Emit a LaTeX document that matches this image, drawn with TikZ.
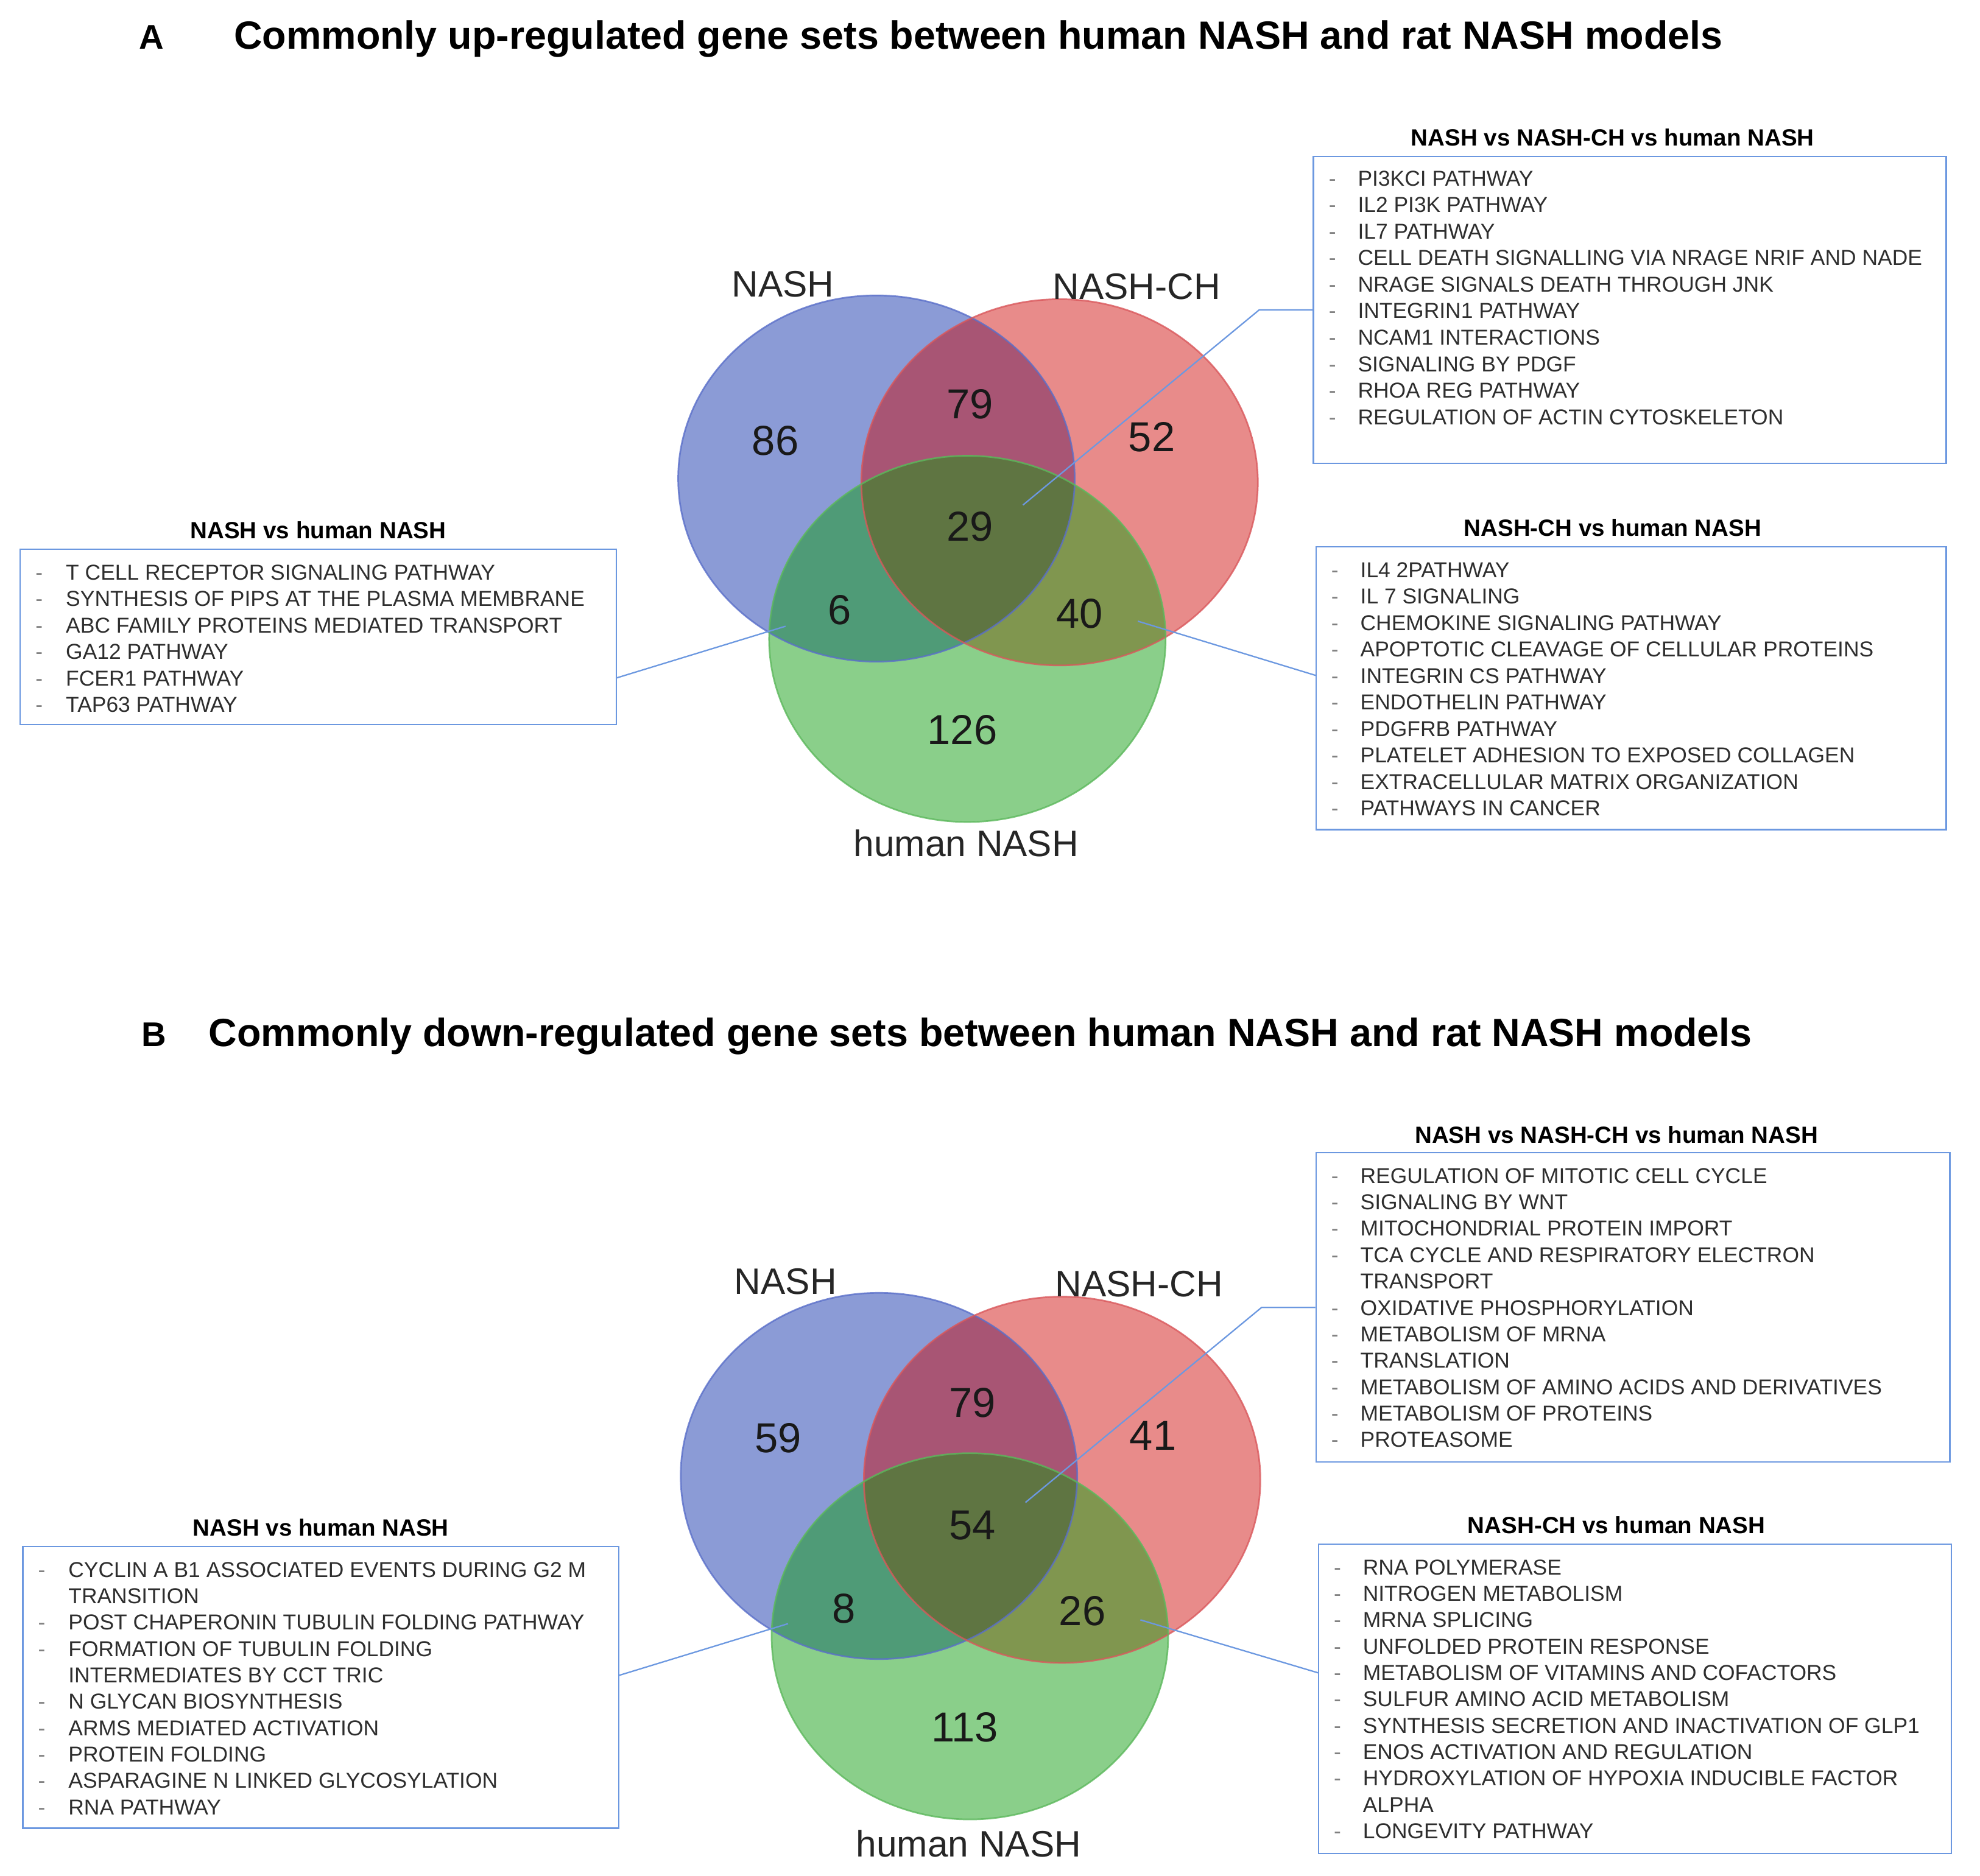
\documentclass[tikz,border=0pt]{standalone}
\usepackage{fontspec}
\setmainfont{Liberation Sans}
\definecolor{cB}{RGB}{139,155,214}
\definecolor{cR}{RGB}{232,139,138}
\definecolor{cG}{RGB}{138,207,138}
\definecolor{cBR}{RGB}{168,85,116}
\definecolor{cBG}{RGB}{79,155,119}
\definecolor{cRG}{RGB}{128,150,79}
\definecolor{cBRG}{RGB}{95,117,66}
\definecolor{sB}{RGB}{90,111,201}
\definecolor{sR}{RGB}{217,88,92}
\definecolor{sG}{RGB}{92,184,92}
\definecolor{boxblue}{RGB}{108,152,224}
\tikzset{
  lbox/.style={draw=boxblue, line width=1.1pt, inner sep=0pt},
  lead/.style={draw=boxblue, line width=1.1pt},
  itemtxt/.style={anchor=west, inner sep=0pt, text=black!82, text height=12.3pt, text depth=0pt, font=\fontsize{17}{20}\selectfont},
  dashmk/.style={itemtxt, text=black!50},
  btitle/.style={inner sep=0pt, font=\bfseries\fontsize{18.5}{22}\selectfont},
  mtitle/.style={anchor=base west, inner sep=0pt, font=\bfseries\fontsize{31}{36}\selectfont},
  plabel/.style={anchor=base west, inner sep=0pt, font=\bfseries\fontsize{27}{32}\selectfont},
  vlabel/.style={inner sep=0pt, text=black!85, font=\fontsize{29}{34}\selectfont},
  vnum/.style={inner sep=0pt, text=black!90, font=\fontsize{33}{38}\selectfont},
  ell/.style={x radius=156.2pt, y radius=144.3pt},
}
\newcommand{\vennshapes}{%
  \fill[cB] (694,379) ellipse [ell];
  \fill[cR] (839,382) ellipse [ell];
  \begin{scope}
    \clip (694,379) ellipse [ell];
    \fill[cBR] (839,382) ellipse [ell];
  \end{scope}
  \fill[cG] (766,506) ellipse [ell];
  \begin{scope}
    \clip (766,506) ellipse [ell];
    \fill[cBG] (694,379) ellipse [ell];
    \fill[cRG] (839,382) ellipse [ell];
    \clip (694,379) ellipse [ell];
    \fill[cBRG] (839,382) ellipse [ell];
  \end{scope}
  \draw[sB, line width=1.3pt, draw opacity=0.8] (694,379) ellipse [ell];
  \draw[sR, line width=1.3pt, draw opacity=0.8] (839,382) ellipse [ell];
  \draw[sG, line width=1.3pt, draw opacity=0.8] (766,506) ellipse [ell];
}
\begin{document}
\begin{tikzpicture}[x=0.995pt, y=-0.995pt]
\useasboundingbox (0pt,0pt) rectangle (1560pt,-1478pt);

% ---------------- Panel A ----------------
\node[plabel] (tA) at (110,39) {A};
\node[mtitle] (titleA) at (185,39) {Commonly up-regulated gene sets between human NASH and rat NASH models};

\vennshapes
\node[vlabel] (lA1) at (620,225) {NASH};
\node[vlabel] (lA2) at (900,227) {NASH-CH};
\node[vlabel] (lA3) at (765,668) {human NASH};
\node[vnum] (nA1) at (614,349) {86};
\node[vnum] (nA2) at (768,320) {79};
\node[vnum] (nA3) at (912,346) {52};
\node[vnum] (nA4) at (768,417) {29};
\node[vnum] (nA5) at (665,483) {6};
\node[vnum] (nA6) at (855,486) {40};
\node[vnum] (nA7) at (762,578) {126};

% box A1
\node[btitle] (hA1) at (1277,109) {NASH vs NASH-CH vs human NASH};
\node[lbox, minimum width=498.5pt, minimum height=241.8pt] (A1) at (1290.5,245.5) {};
\foreach \t/\d [count=\i] in {PI3KCI PATHWAY/1, IL2 PI3K PATHWAY/1, IL7 PATHWAY/1,
  CELL DEATH SIGNALLING VIA NRAGE NRIF AND NADE/1, NRAGE SIGNALS DEATH THROUGH JNK/1,
  INTEGRIN1 PATHWAY/1, NCAM1 INTERACTIONS/1, SIGNALING BY PDGF/1, RHOA REG PATHWAY/1,
  REGULATION OF ACTIN CYTOSKELETON/1} {
  \node[itemtxt] (iA1-\i) at (1075,{141+(\i-1)*21}) {\t};
  \ifnum\d=1 \node[dashmk] (dA1-\i) at (1052,{141+(\i-1)*21}) {-};\fi
}
% box A2
\node[btitle] (hA2) at (252,420) {NASH vs human NASH};
\node[lbox, minimum width=469.6pt, minimum height=138.3pt] (A2) at (252,504.5) {};
\foreach \t/\d [count=\i] in {T CELL RECEPTOR SIGNALING PATHWAY/1,
  SYNTHESIS OF PIPS AT THE PLASMA MEMBRANE/1, ABC FAMILY PROTEINS MEDIATED TRANSPORT/1,
  GA12 PATHWAY/1, FCER1 PATHWAY/1, TAP63 PATHWAY/1} {
  \node[itemtxt] (iA2-\i) at (52,{453+(\i-1)*21}) {\t};
  \ifnum\d=1 \node[dashmk] (dA2-\i) at (28,{453+(\i-1)*21}) {-};\fi
}
% box A3
\node[btitle] (hA3) at (1277,418) {NASH-CH vs human NASH};
\node[lbox, minimum width=496.5pt, minimum height=222.9pt] (A3) at (1291.5,545) {};
\foreach \t/\d [count=\i] in {IL4 2PATHWAY/1, IL 7 SIGNALING/1, CHEMOKINE SIGNALING PATHWAY/1,
  APOPTOTIC CLEAVAGE OF CELLULAR PROTEINS/1, INTEGRIN CS PATHWAY/1, ENDOTHELIN PATHWAY/1,
  PDGFRB PATHWAY/1, PLATELET ADHESION TO EXPOSED COLLAGEN/1,
  EXTRACELLULAR MATRIX ORGANIZATION/1, PATHWAYS IN CANCER/1} {
  \node[itemtxt] (iA3-\i) at (1077,{451+(\i-1)*21}) {\t};
  \ifnum\d=1 \node[dashmk] (dA3-\i) at (1054,{451+(\i-1)*21}) {-};\fi
}
% leaders A
\coordinate (sA1) at (810,400);
\coordinate (kA1) at (997,245.5);
\draw[lead] (sA1) -- (kA1) -- (A1.west);
\coordinate (sA2) at (622,496);
\coordinate (eA2) at (488,537);
\draw[lead] (sA2) -- (eA2);
\coordinate (sA3) at (901,492);
\coordinate (eA3) at (1042,535);
\draw[lead] (sA3) -- (eA3);

% ---------------- Panel B ----------------
\node[plabel] (tB) at (112,829) {B};
\node[mtitle] (titleB) at (165,829) {Commonly down-regulated gene sets between human NASH and rat NASH models};

\begin{scope}[shift={(2,790)}]
\vennshapes
\end{scope}
\node[vlabel] (lB1) at (622,1015) {NASH};
\node[vlabel] (lB2) at (902,1017) {NASH-CH};
\node[vlabel] (lB3) at (767,1460) {human NASH};
\node[vnum] (nB1) at (616,1139) {59};
\node[vnum] (nB2) at (770,1111) {79};
\node[vnum] (nB3) at (913,1137) {41};
\node[vnum] (nB4) at (770,1208) {54};
\node[vnum] (nB5) at (668,1274) {8};
\node[vnum] (nB6) at (857,1276) {26};
\node[vnum] (nB7) at (764,1368) {113};

% box B1
\node[btitle] (hB1) at (1280,899) {NASH vs NASH-CH vs human NASH};
\node[lbox, minimum width=499.5pt, minimum height=243.8pt] (B1) at (1293,1035.5) {};
\foreach \t/\d [count=\i] in {REGULATION OF MITOTIC CELL CYCLE/1, SIGNALING BY WNT/1,
  MITOCHONDRIAL PROTEIN IMPORT/1, TCA CYCLE AND RESPIRATORY ELECTRON/1, TRANSPORT/0,
  OXIDATIVE PHOSPHORYLATION/1, METABOLISM OF MRNA/1, TRANSLATION/1,
  METABOLISM OF AMINO ACIDS AND DERIVATIVES/1, METABOLISM OF PROTEINS/1, PROTEASOME/1} {
  \node[itemtxt] (iB1-\i) at (1077,{931+(\i-1)*20.9}) {\t};
  \ifnum\d=1 \node[dashmk] (dB1-\i) at (1054,{931+(\i-1)*20.9}) {-};\fi
}
% box B2
\node[btitle] (hB2) at (254,1210) {NASH vs human NASH};
\node[lbox, minimum width=469.6pt, minimum height=221.9pt] (B2) at (254,1336.5) {};
\foreach \t/\d [count=\i] in {CYCLIN A B1 ASSOCIATED EVENTS DURING G2 M/1, TRANSITION/0,
  POST CHAPERONIN TUBULIN FOLDING PATHWAY/1, FORMATION OF TUBULIN FOLDING/1,
  INTERMEDIATES BY CCT TRIC/0, N GLYCAN BIOSYNTHESIS/1, ARMS MEDIATED ACTIVATION/1,
  PROTEIN FOLDING/1, ASPARAGINE N LINKED GLYCOSYLATION/1, RNA PATHWAY/1} {
  \node[itemtxt] (iB2-\i) at (54,{1243+(\i-1)*20.9}) {\t};
  \ifnum\d=1 \node[dashmk] (dB2-\i) at (30,{1243+(\i-1)*20.9}) {-};\fi
}
% box B3
\node[btitle] (hB3) at (1280,1208) {NASH-CH vs human NASH};
\node[lbox, minimum width=498.5pt, minimum height=243.8pt] (B3) at (1294.5,1345.5) {};
\foreach \t/\d [count=\i] in {RNA POLYMERASE/1, NITROGEN METABOLISM/1, MRNA SPLICING/1,
  UNFOLDED PROTEIN RESPONSE/1, METABOLISM OF VITAMINS AND COFACTORS/1,
  SULFUR AMINO ACID METABOLISM/1, SYNTHESIS SECRETION AND INACTIVATION OF GLP1/1,
  ENOS ACTIVATION AND REGULATION/1, HYDROXYLATION OF HYPOXIA INDUCIBLE FACTOR/1,
  ALPHA/0, LONGEVITY PATHWAY/1} {
  \node[itemtxt] (iB3-\i) at (1079,{1241+(\i-1)*20.9}) {\t};
  \ifnum\d=1 \node[dashmk] (dB3-\i) at (1056,{1241+(\i-1)*20.9}) {-};\fi
}
% leaders B
\coordinate (sB1) at (812,1190);
\coordinate (kB1) at (999,1035.5);
\draw[lead] (sB1) -- (kB1) -- (B1.west);
\coordinate (sB2) at (624,1286);
\coordinate (eB2) at (490,1327);
\draw[lead] (sB2) -- (eB2);
\coordinate (sB3) at (903,1283);
\coordinate (eB3) at (1044,1325);
\draw[lead] (sB3) -- (eB3);
\end{tikzpicture}
\end{document}
